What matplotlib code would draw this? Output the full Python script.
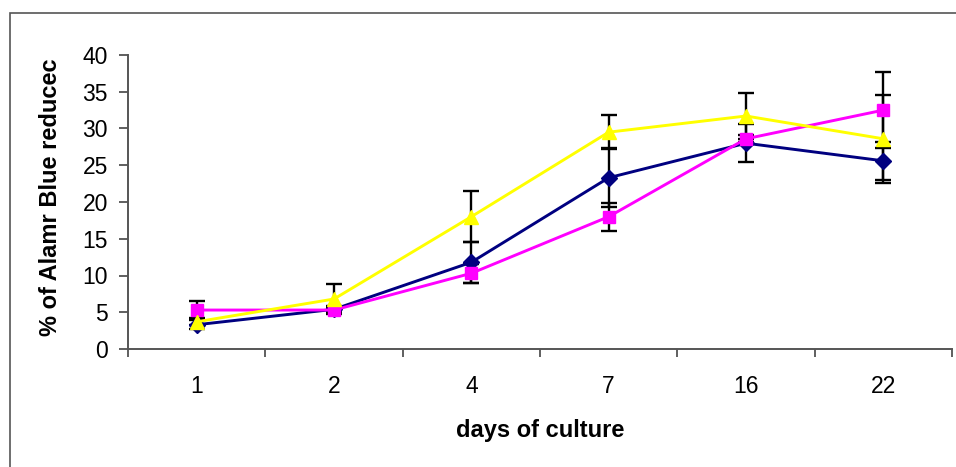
import matplotlib
matplotlib.use('Agg')
from matplotlib import pyplot as plt
from matplotlib.patches import Rectangle

plt.rcParams['font.family'] = ['Liberation Sans', 'DejaVu Sans']

days = ["1", "2", "4", "7", "16", "22"]

blue_vals = [3.3, 5.4, 11.8, 23.3, 28.0, 25.6]
blue_err = [0.6, 0.4, 2.8, 4.0, 2.6, 2.6]

pink_vals = [5.3, 5.3, 10.3, 18.0, 28.6, 32.5]
pink_err = [1.2, 0.3, 1.3, 1.9, 0.5, 5.2]

yellow_vals = [3.7, 6.8, 18.0, 29.5, 31.7, 28.6]
yellow_err = [0.5, 2.0, 3.5, 2.3, 3.1, 6.0]

W, H = 956, 467
fig = plt.figure(figsize=(W / 100, H / 100), dpi=100)

# outer chart-area border (cut off at right and bottom, like the source)
fig.patches.append(Rectangle((10 / W, -0.05), 1.2, 1 - 13 / H + 0.05,
                             transform=fig.transFigure, fill=False,
                             edgecolor="#555555", linewidth=1.2))

ax = fig.add_axes([128 / W, 1 - 349 / H, (952 - 128) / W, 294 / H])
x = list(range(len(days)))

series = [
    (blue_vals, blue_err, "#000080", "D", 8),
    (pink_vals, pink_err, "#FF00FF", "s", 8.5),
    (yellow_vals, yellow_err, "#FFFF00", "^", 9.5),
]
for vals, err, col, mk, ms in series:
    ax.errorbar(x, vals, yerr=err, fmt="none", ecolor="black",
                elinewidth=1.7, capsize=5.8, capthick=1.7, zorder=2)
for vals, err, col, mk, ms in series:
    ax.plot(x, vals, color=col, marker=mk, markersize=ms,
            markeredgecolor=col, linewidth=2.1, zorder=3)

ax.set_xlim(-0.5, len(days) - 0.5)
ax.set_ylim(0, 40)
ax.set_yticks(range(0, 41, 5))
ax.set_xticks(x)
ax.set_xticklabels(days)
ax.set_xticks([i - 0.5 for i in range(len(days) + 1)], minor=True)
ax.tick_params(axis="x", which="major", length=0, pad=19, labelsize=16.5)
ax.tick_params(axis="x", which="minor", length=6, width=1.2, color="#444444")
ax.tick_params(axis="y", length=6.5, width=1.2, color="#444444", labelsize=16.5, pad=8)

for s in ["top", "right"]:
    ax.spines[s].set_visible(False)
for s in ["left", "bottom"]:
    ax.spines[s].set_color("#555555")
    ax.spines[s].set_linewidth(1.4)

fig.text(540 / W, 1 - 430 / H, "days of culture", ha="center", va="center",
         fontsize=17, fontweight="bold")
fig.text(51 / W, 1 - 197 / H, "% of Alamr Blue reducec", ha="center", va="center",
         rotation=90, fontsize=17, fontweight="bold")

fig.savefig("out.png", dpi=100)
